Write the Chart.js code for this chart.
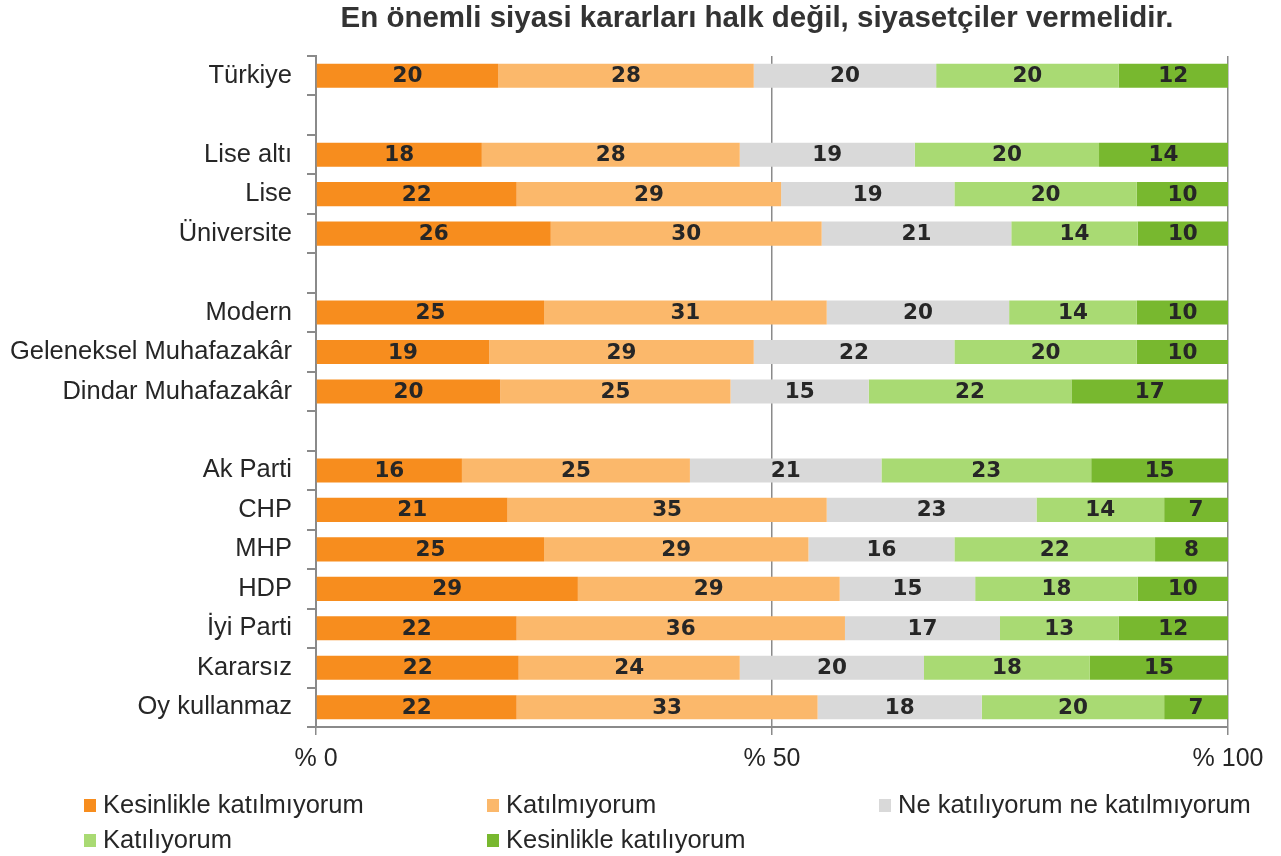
<!DOCTYPE html>
<html><head><meta charset="utf-8">
<script src="https://cdn.jsdelivr.net/npm/chart.js@4/dist/chart.umd.min.js"></script>
<style>html,body{margin:0;padding:0;background:#fff;overflow:hidden}</style>
</head><body>
<canvas id="c" width="1281" height="856" style="width:1281px;height:856px;display:block"></canvas>
<script>
const titleText = 'En önemli siyasi kararları halk değil, siyasetçiler vermelidir.';
const categories = ['Türkiye', '', 'Lise altı', 'Lise', 'Üniversite', '', 'Modern', 'Geleneksel Muhafazakâr', 'Dindar Muhafazakâr', '', 'Ak Parti', 'CHP', 'MHP', 'HDP', 'İyi Parti', 'Kararsız', 'Oy kullanmaz'];
const seriesNames = ['Kesinlikle katılmıyorum', 'Katılmıyorum', 'Ne katılıyorum ne katılmıyorum', 'Katılıyorum', 'Kesinlikle katılıyorum'];
const seriesColors = ['#F78D1E', '#FBB86B', '#D9D9D9', '#A9DA73', '#78B82F'];
const kesinlikleKatilmiyorum = [20, null, 18, 22, 26, null, 25, 19, 20, null, 16, 21, 25, 29, 22, 22, 22];
const katilmiyorum           = [28, null, 28, 29, 30, null, 31, 29, 25, null, 25, 35, 29, 29, 36, 24, 33];
const neKatiliyorum          = [20, null, 19, 19, 21, null, 20, 22, 15, null, 21, 23, 16, 15, 17, 20, 18];
const katiliyorum            = [20, null, 20, 20, 14, null, 14, 20, 22, null, 23, 14, 22, 18, 13, 18, 20];
const kesinlikleKatiliyorum  = [12, null, 14, 10, 10, null, 10, 10, 17, null, 15, 7, 8, 10, 12, 15, 7];
const xTickValues = [0, 50, 100];
const xTickPrefix = '% ';

const seriesValues = [kesinlikleKatilmiyorum, katilmiyorum, neKatiliyorum, katiliyorum, kesinlikleKatiliyorum];
const totals = categories.map((_, i) => seriesValues.reduce((s, arr) => s + (arr[i] || 0), 0));

const datasets = seriesValues.map((arr, k) => ({
  label: seriesNames[k],
  backgroundColor: seriesColors[k],
  rawValues: arr,
  data: arr.map((v, i) => v == null ? null : v / totals[i] * 100),
  barPercentage: 0.61,
  categoryPercentage: 1.0,
  borderWidth: 0
}));

const axisColor = '#8A8A8A';
const textColor = '#262626';

const titlePlugin = {
  id: 'titlePlugin',
  afterDraw(chart) {
    const ctx = chart.ctx;
    ctx.save();
    ctx.font = 'bold 29.5px "Liberation Sans", Arial, sans-serif';
    ctx.fillStyle = '#333333';
    ctx.textAlign = 'center';
    ctx.textBaseline = 'middle';
    ctx.fillText(titleText, 757, 19);
    ctx.restore();
  }
};

const labelPlugin = {
  id: 'labelPlugin',
  afterDatasetsDraw(chart) {
    const ctx = chart.ctx;
    ctx.save();
    ctx.font = 'bold 21.5px "DejaVu Sans", sans-serif';
    ctx.fillStyle = textColor;
    ctx.textAlign = 'center';
    ctx.textBaseline = 'middle';
    chart.data.datasets.forEach((ds, di) => {
      const meta = chart.getDatasetMeta(di);
      meta.data.forEach((el, i) => {
        const v = ds.rawValues[i];
        if (v == null) return;
        const p = el.getCenterPoint();
        ctx.fillText(String(v), p.x, p.y + 1);
      });
    });
    ctx.restore();
  }
};

const legendPlugin = {
  id: 'legendPlugin',
  afterDraw(chart) {
    const ctx = chart.ctx;
    const colX = [84, 487, 879];
    const rowY = [805, 840];
    ctx.save();
    ctx.font = '25.5px "Liberation Sans", Arial, sans-serif';
    ctx.textBaseline = 'middle';
    ctx.textAlign = 'left';
    chart.data.datasets.forEach((ds, i) => {
      const x = colX[i % 3];
      const y = rowY[Math.floor(i / 3)];
      ctx.fillStyle = ds.backgroundColor;
      ctx.fillRect(x, y - 6, 12, 13);
      ctx.fillStyle = textColor;
      ctx.fillText(ds.label, x + 19, y + 1);
    });
    ctx.restore();
  }
};

new Chart(document.getElementById('c'), {
  type: 'bar',
  data: { labels: categories, datasets },
  options: {
    indexAxis: 'y',
    responsive: false,
    animation: false,
    devicePixelRatio: 1,
    layout: { padding: { left: 0, right: 53, top: 56, bottom: 79 } },
    plugins: { legend: { display: false }, title: { display: false }, tooltip: { enabled: false } },
    scales: {
      x: {
        stacked: true,
        min: 0, max: 100,
        afterBuildTicks(scale) { scale.ticks = xTickValues.map(v => ({ value: v })); },
        afterFit(scale) { scale.height = 50; },
        ticks: {
          callback: v => xTickPrefix + v,
          color: textColor,
          font: { family: '"Liberation Sans", Arial, sans-serif', size: 25 },
          padding: 9,
          maxRotation: 0
        },
        grid: { color: axisColor, lineWidth: 1.5, tickLength: 8, drawTicks: true },
        border: { display: true, color: axisColor, width: 2 }
      },
      y: {
        stacked: true,
        afterFit(scale) { scale.width = 316; },
        ticks: {
          color: textColor,
          font: { family: '"Liberation Sans", Arial, sans-serif', size: 25.5 },
          padding: 15,
          autoSkip: false
        },
        grid: { color: axisColor, lineWidth: 2, tickLength: 9, drawOnChartArea: false, offset: true },
        border: { display: true, color: axisColor, width: 2 }
      }
    }
  },
  plugins: [titlePlugin, labelPlugin, legendPlugin]
});
</script>
</body></html>
